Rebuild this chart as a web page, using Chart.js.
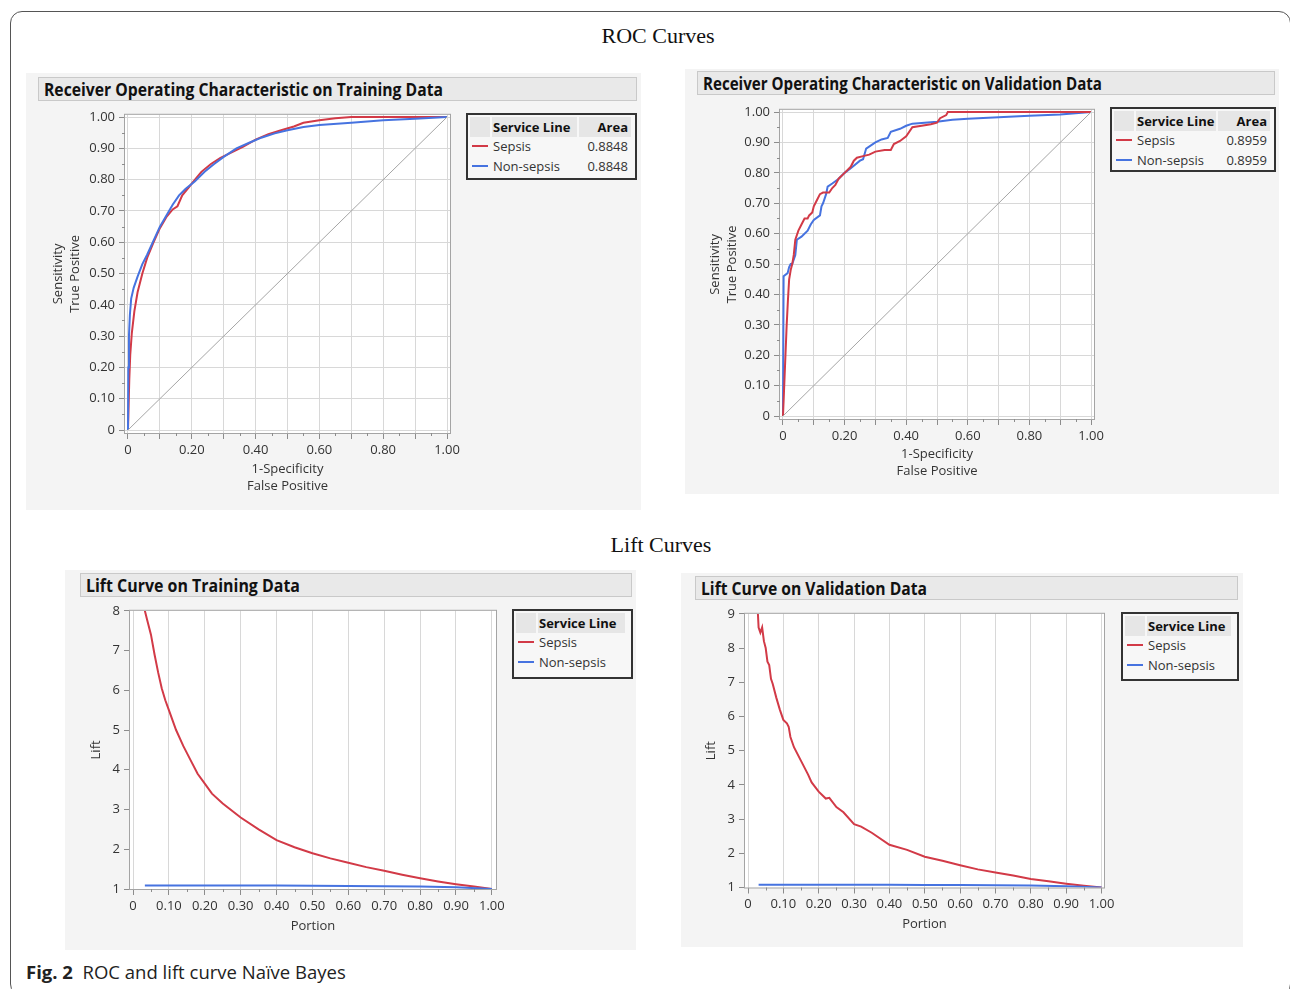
<!DOCTYPE html>
<html>
<head>
<meta charset="utf-8">
<script src="https://cdn.jsdelivr.net/npm/chart.js@4.4.1/dist/chart.umd.min.js"></script>
<style>
  body{margin:0;width:1290px;height:989px;overflow:hidden;background:#fff;font-family:"Open Sans",sans-serif;color:#222;position:relative}
  .frame{position:absolute;left:10px;top:11px;width:1281px;height:985px;border:1px solid #555;border-radius:12px;box-sizing:border-box}
  .sect{position:absolute;font-family:"Liberation Serif",serif;font-size:22px;color:#111;transform:translate(-50%,-50%);white-space:nowrap}
  .panel{position:absolute;background:#f4f4f4}
  .hdr{position:absolute;background:#e9e9e9;border:1px solid #c9c9c9;box-sizing:border-box}
  .hdr span{position:absolute;left:5px;top:50%;font-weight:bold;font-size:17px;white-space:nowrap;transform-origin:left center;color:#111}
  canvas{position:absolute}
  .leg{position:absolute;border:2px solid #333;background:#f7f7f7;box-sizing:border-box;font-size:13px;color:#333}
  .leg .band{position:absolute;top:2px;height:20px;background:#e6e6e6}
  .leg .t{position:absolute;white-space:nowrap;transform:translateY(-50%)}
  .leg .b{font-weight:bold;color:#111}
  .leg .sw{position:absolute;height:2px}
  .cap{position:absolute;left:26px;top:971px;transform:translateY(-50%);font-size:18.5px;white-space:nowrap;color:#222}
</style>
</head>
<body>
<div class="frame"></div>
<div class="sect" style="left:658px;top:36px">ROC Curves</div>
<div class="sect" style="left:661px;top:545px">Lift Curves</div>

<div class="panel" style="left:26px;top:73px;width:615px;height:437px"></div>
<div class="panel" style="left:685px;top:69px;width:594px;height:425px"></div>
<div class="panel" style="left:65px;top:570px;width:571px;height:380px"></div>
<div class="panel" style="left:681px;top:573px;width:562px;height:374px"></div>

<div class="hdr" style="left:38px;top:77px;width:599px;height:24px"><span data-w="399">Receiver Operating Characteristic on Training Data</span></div>
<div class="hdr" style="left:697px;top:71px;width:578px;height:24px"><span data-w="399">Receiver Operating Characteristic on Validation Data</span></div>
<div class="hdr" style="left:80px;top:573px;width:552px;height:24px"><span data-w="214">Lift Curve on Training Data</span></div>
<div class="hdr" style="left:695px;top:576px;width:543px;height:24px"><span data-w="226">Lift Curve on Validation Data</span></div>

<canvas id="c1" width="436" height="396" style="left:30px;top:103px"></canvas>
<canvas id="c2" width="425" height="386" style="left:685px;top:98px"></canvas>
<canvas id="c3" width="442" height="340" style="left:70px;top:599px"></canvas>
<canvas id="c4" width="435" height="335" style="left:685px;top:602px"></canvas>

<div id="leg1" class="leg" style="left:466px;top:113px;width:171px;height:67px"></div>
<div id="leg2" class="leg" style="left:1110px;top:107px;width:166px;height:65px"></div>
<div id="leg3" class="leg" style="left:512px;top:609px;width:121px;height:70px"></div>
<div id="leg4" class="leg" style="left:1121px;top:612px;width:118px;height:69px"></div>

<div class="cap"><b>Fig. 2</b>&nbsp;&nbsp;ROC and lift curve Naïve Bayes</div>

<script>
// series names / colours
const seriesNames = ['Sepsis', 'Non-sepsis'];
const seriesColors = ['#d23a47', '#4673e0'];
const areaTrain = ['0.8848', '0.8848'];
const areaValid = ['0.8959', '0.8959'];

// tick values
const rocTicks = [0, 0.1, 0.2, 0.3, 0.4, 0.5, 0.6, 0.7, 0.8, 0.9, 1];
const rocMinor = [0.05, 0.15, 0.25, 0.35, 0.45, 0.55, 0.65, 0.75, 0.85, 0.95];
const portionTicks = [0, 0.1, 0.2, 0.3, 0.4, 0.5, 0.6, 0.7, 0.8, 0.9, 1];
const liftTicksTrain = [1, 2, 3, 4, 5, 6, 7, 8];
const liftTicksValid = [1, 2, 3, 4, 5, 6, 7, 8, 9];
const diagX = [0, 1];
const diagY = [0, 1];

// ROC training
const rocTrainSepsisX = [0, 0.002, 0.004, 0.007, 0.012, 0.02, 0.03, 0.045, 0.06, 0.08, 0.1, 0.12, 0.14, 0.155, 0.17, 0.19, 0.21, 0.23, 0.26, 0.29, 0.32, 0.36, 0.4, 0.44, 0.48, 0.52, 0.55, 0.6, 0.65, 0.7, 0.8, 0.9, 1];
const rocTrainSepsisY = [0, 0.08, 0.16, 0.24, 0.31, 0.38, 0.44, 0.5, 0.55, 0.6, 0.645, 0.68, 0.705, 0.715, 0.75, 0.775, 0.8, 0.825, 0.85, 0.87, 0.885, 0.905, 0.928, 0.945, 0.958, 0.97, 0.982, 0.99, 0.996, 1, 1, 1, 1];
const rocTrainNonX = [0, 0.001, 0.003, 0.006, 0.01, 0.018, 0.03, 0.045, 0.06, 0.08, 0.1, 0.12, 0.14, 0.16, 0.18, 0.21, 0.24, 0.27, 0.3, 0.34, 0.38, 0.42, 0.46, 0.5, 0.55, 0.6, 0.7, 0.8, 0.9, 1];
const rocTrainNonY = [0, 0.2, 0.3, 0.37, 0.42, 0.455, 0.49, 0.53, 0.56, 0.605, 0.65, 0.685, 0.72, 0.75, 0.77, 0.795, 0.825, 0.85, 0.873, 0.9, 0.918, 0.935, 0.948, 0.958, 0.968, 0.975, 0.982, 0.99, 0.995, 1];

// ROC validation
const rocValidSepsisX = [0, 0.004, 0.008, 0.012, 0.016, 0.02, 0.025, 0.03, 0.035, 0.04, 0.05, 0.06, 0.07, 0.08, 0.085, 0.095, 0.1, 0.11, 0.12, 0.13, 0.15, 0.16, 0.17, 0.18, 0.2, 0.22, 0.23, 0.24, 0.26, 0.28, 0.3, 0.33, 0.35, 0.36, 0.38, 0.4, 0.42, 0.45, 0.48, 0.5, 0.51, 0.53, 0.535, 0.6, 0.8, 1];
const rocValidSepsisY = [0, 0.1, 0.2, 0.3, 0.38, 0.45, 0.48, 0.5, 0.53, 0.58, 0.61, 0.63, 0.65, 0.65, 0.66, 0.67, 0.69, 0.71, 0.73, 0.735, 0.735, 0.75, 0.76, 0.78, 0.8, 0.82, 0.84, 0.85, 0.855, 0.86, 0.87, 0.875, 0.875, 0.895, 0.905, 0.92, 0.95, 0.955, 0.96, 0.965, 0.98, 0.99, 1, 1, 1, 1];
const rocValidNonX = [0, 0.002, 0.015, 0.02, 0.025, 0.03, 0.04, 0.045, 0.06, 0.08, 0.09, 0.1, 0.12, 0.125, 0.13, 0.14, 0.145, 0.16, 0.18, 0.2, 0.22, 0.25, 0.26, 0.27, 0.3, 0.32, 0.34, 0.35, 0.38, 0.4, 0.42, 0.46, 0.5, 0.55, 0.6, 0.7, 0.8, 0.9, 1];
const rocValidNonY = [0, 0.46, 0.47, 0.49, 0.5, 0.5, 0.53, 0.58, 0.59, 0.61, 0.63, 0.645, 0.66, 0.69, 0.7, 0.73, 0.755, 0.765, 0.78, 0.8, 0.815, 0.84, 0.845, 0.88, 0.9, 0.91, 0.915, 0.935, 0.945, 0.955, 0.962, 0.965, 0.968, 0.975, 0.978, 0.983, 0.988, 0.992, 1];

// Lift training
const liftTrainSepsisX = [0.033, 0.04, 0.05, 0.06, 0.07, 0.08, 0.09, 0.1, 0.12, 0.14, 0.16, 0.18, 0.2, 0.22, 0.25, 0.3, 0.35, 0.4, 0.45, 0.5, 0.55, 0.6, 0.65, 0.7, 0.75, 0.8, 0.85, 0.9, 0.95, 1];
const liftTrainSepsisY = [8, 7.75, 7.4, 6.9, 6.45, 6.05, 5.75, 5.5, 5.0, 4.6, 4.25, 3.9, 3.65, 3.4, 3.15, 2.8, 2.5, 2.23, 2.05, 1.9, 1.77, 1.66, 1.55, 1.46, 1.36, 1.27, 1.19, 1.12, 1.06, 1];
const liftTrainNonX = [0.033, 0.1, 0.2, 0.3, 0.4, 0.5, 0.6, 0.7, 0.8, 0.9, 1];
const liftTrainNonY = [1.09, 1.09, 1.09, 1.085, 1.085, 1.08, 1.075, 1.07, 1.06, 1.045, 1];

// Lift validation
const liftValidSepsisX = [0.028, 0.03, 0.035, 0.04, 0.045, 0.05, 0.055, 0.06, 0.065, 0.07, 0.08, 0.09, 0.1, 0.11, 0.115, 0.12, 0.13, 0.15, 0.17, 0.18, 0.2, 0.22, 0.23, 0.25, 0.27, 0.3, 0.32, 0.35, 0.4, 0.45, 0.5, 0.55, 0.6, 0.65, 0.7, 0.75, 0.8, 0.85, 0.9, 0.95, 1];
const liftValidSepsisY = [9, 8.6, 8.45, 8.6, 8.2, 8.0, 7.6, 7.5, 7.1, 6.95, 6.55, 6.2, 5.9, 5.8, 5.7, 5.4, 5.1, 4.7, 4.3, 4.07, 3.8, 3.6, 3.62, 3.35, 3.2, 2.85, 2.78, 2.6, 2.25, 2.1, 1.9, 1.78, 1.65, 1.53, 1.44, 1.35, 1.25, 1.18, 1.11, 1.05, 1];
const liftValidNonX = [0.03, 0.1, 0.2, 0.3, 0.4, 0.5, 0.6, 0.7, 0.8, 0.9, 1];
const liftValidNonY = [1.08, 1.08, 1.08, 1.08, 1.08, 1.075, 1.07, 1.065, 1.055, 1.04, 1];

function pts(xs, ys) { return xs.map((x, i) => ({x: x, y: ys[i]})); }

const tickFont = {family: 'Open Sans', size: 13};
const titleFont = {family: 'Open Sans', size: 13, lineHeight: 1.3};
const txtColor = '#333';

// frame + white plot background + minor ticks
const jmpLook = {
  id: 'jmpLook',
  beforeDraw(chart) {
    const a = chart.chartArea, c = chart.ctx;
    c.save(); c.fillStyle = '#fff'; c.fillRect(a.left, a.top, a.right - a.left, a.bottom - a.top); c.restore();
  },
  afterDraw(chart, args, opts) {
    const a = chart.chartArea, c = chart.ctx;
    c.save();
    c.strokeStyle = '#a4a4a4'; c.lineWidth = 1;
    c.strokeRect(a.left - 0.5, a.top - 0.5, a.right - a.left + 1, a.bottom - a.top + 1);
    c.strokeStyle = '#8c8c8c';
    c.beginPath();
    (opts.x || []).forEach(v => {
      const p = Math.round(chart.scales.x.getPixelForValue(v)) + 0.5;
      c.moveTo(p, a.bottom); c.lineTo(p, a.bottom + 3);
    });
    (opts.y || []).forEach(v => {
      const p = Math.round(chart.scales.y.getPixelForValue(v)) + 0.5;
      c.moveTo(a.left, p); c.lineTo(a.left - 3, p);
    });
    c.stroke();
    c.restore();
  }
};

function makeChart(id, p) {
  const ds = p.series.map(s => ({
    data: s.data, showLine: true, borderColor: s.color, borderWidth: s.w || 2,
    pointRadius: 0, fill: false, tension: 0
  }));
  return new Chart(document.getElementById(id), {
    type: 'scatter',
    data: {datasets: ds},
    plugins: [jmpLook],
    options: {
      responsive: false, animation: false, events: [],
      layout: {padding: {top: 10, right: p.padR, left: 0, bottom: 0}},
      plugins: {legend: {display: false}, tooltip: {enabled: false}, jmpLook: {x: p.xMinor, y: p.yMinor}},
      scales: {
        x: {
          type: 'linear', min: p.xMin, max: p.xMax,
          afterBuildTicks: s => { s.ticks = p.xTicks.map(v => ({value: v})); },
          afterFit: s => { s.height = p.xH; },
          grid: {color: '#d8d8d8', tickColor: '#8c8c8c', tickLength: 6},
          border: {display: false},
          ticks: {padding: 3, font: tickFont, color: txtColor, maxRotation: 0, autoSkip: false, callback: p.xFmt},
          title: {display: true, text: p.xTitle, font: titleFont, color: txtColor, padding: {top: 0, bottom: 4}}
        },
        y: {
          type: 'linear', min: p.yMin, max: p.yMax,
          afterBuildTicks: s => { s.ticks = p.yTicks.map(v => ({value: v})); },
          afterFit: s => { s.width = p.yW; },
          grid: {color: '#d8d8d8', tickColor: '#8c8c8c', tickLength: 6, drawOnChartArea: p.yGrid},
          border: {display: false},
          ticks: {padding: 4, font: tickFont, color: txtColor, autoSkip: false, callback: p.yFmt},
          title: {display: true, text: p.yTitle, font: titleFont, color: txtColor, padding: {top: p.yTitlePad, bottom: 0}}
        }
      }
    }
  });
}

const fmtRocX = v => v === 0 ? '0' : (Math.round(v * 10) % 2 === 0 ? v.toFixed(2) : '');
const fmtRocY = v => v === 0 ? '0' : v.toFixed(2);
const fmtPortion = v => v === 0 ? '0' : v.toFixed(2);
const fmtInt = v => String(v);

makeChart('c1', {
  series: [
    {data: pts(diagX, diagY), color: '#a6a6a6', w: 1},
    {data: pts(rocTrainNonX, rocTrainNonY), color: seriesColors[1]},
    {data: pts(rocTrainSepsisX, rocTrainSepsisY), color: seriesColors[0]}
  ],
  xMin: -0.0094, xMax: 1.0094, yMin: -0.0095, yMax: 1.0073,
  xTicks: rocTicks, yTicks: rocTicks, xMinor: rocMinor, yMinor: rocMinor,
  xFmt: fmtRocX, yFmt: fmtRocY, yGrid: true,
  xTitle: ['1-Specificity', 'False Positive'], yTitle: ['Sensitivity', 'True Positive'],
  padR: 16, xH: 66, yW: 95, yTitlePad: 19.5
});

makeChart('c2', {
  series: [
    {data: pts(diagX, diagY), color: '#a6a6a6', w: 1},
    {data: pts(rocValidSepsisX, rocValidSepsisY), color: seriesColors[0]},
    {data: pts(rocValidNonX, rocValidNonY), color: seriesColors[1]}
  ],
  xMin: -0.0097, xMax: 1.0097, yMin: -0.0098, yMax: 1.0075,
  xTicks: rocTicks, yTicks: rocTicks, xMinor: rocMinor, yMinor: rocMinor,
  xFmt: fmtRocX, yFmt: fmtRocY, yGrid: true,
  xTitle: ['1-Specificity', 'False Positive'], yTitle: ['Sensitivity', 'True Positive'],
  padR: 16, xH: 65, yW: 95, yTitlePad: 21.5
});

makeChart('c3', {
  series: [
    {data: pts(liftTrainNonX, liftTrainNonY), color: seriesColors[1]},
    {data: pts(liftTrainSepsisX, liftTrainSepsisY), color: seriesColors[0]}
  ],
  xMin: -0.0084, xMax: 1.0115, yMin: 1, yMax: 8,
  xTicks: portionTicks, yTicks: liftTicksTrain, xMinor: rocMinor, yMinor: [],
  xFmt: fmtPortion, yFmt: fmtInt, yGrid: false,
  xTitle: 'Portion', yTitle: 'Lift',
  padR: 16, xH: 50, yW: 60, yTitlePad: 17.5
});

makeChart('c4', {
  series: [
    {data: pts(liftValidNonX, liftValidNonY), color: seriesColors[1]},
    {data: pts(liftValidSepsisX, liftValidSepsisY), color: seriesColors[0]}
  ],
  xMin: -0.0085, xMax: 1.007, yMin: 1, yMax: 9,
  xTicks: portionTicks, yTicks: liftTicksValid, xMinor: rocMinor, yMinor: [],
  xFmt: fmtPortion, yFmt: fmtInt, yGrid: false,
  xTitle: 'Portion', yTitle: 'Lift',
  padR: 16, xH: 49.5, yW: 60, yTitlePad: 17.5
});

// legend tables (JMP style)
function legend(id, areas) {
  const box = document.getElementById(id);
  const W = box.clientWidth;
  let h = '';
  if (areas) {
    h += '<div class="band" style="left:2px;width:20px"></div>';
    h += '<div class="band" style="left:24px;width:' + (W - 82) + 'px"></div>';
    h += '<div class="band" style="left:' + (W - 56) + 'px;width:52px"></div>';
    h += '<div class="t b" style="left:25px;top:12px">Service Line</div>';
    h += '<div class="t b" style="right:7px;top:12px">Area</div>';
  } else {
    h += '<div class="band" style="left:2px;width:20px"></div>';
    h += '<div class="band" style="left:24px;width:' + (W - 30) + 'px"></div>';
    h += '<div class="t b" style="left:25px;top:12px">Service Line</div>';
  }
  seriesNames.forEach((n, i) => {
    const y = 31 + i * 19.5;
    h += '<div class="sw" style="left:4px;width:16px;top:' + (y - 1) + 'px;background:' + seriesColors[i] + '"></div>';
    h += '<div class="t" style="left:25px;top:' + y + 'px">' + n + '</div>';
    if (areas) h += '<div class="t" style="right:7px;top:' + y + 'px">' + areas[i] + '</div>';
  });
  box.innerHTML = h;
}
legend('leg1', areaTrain);
legend('leg2', areaValid);
legend('leg3', null);
legend('leg4', null);

// squeeze header titles to the reference widths
document.querySelectorAll('.hdr span').forEach(el => {
  const w = el.getBoundingClientRect().width;
  const target = +el.dataset.w;
  el.style.transform = 'translateY(-50%) scaleX(' + (target / w) + ')';
});
</script>
</body>
</html>
